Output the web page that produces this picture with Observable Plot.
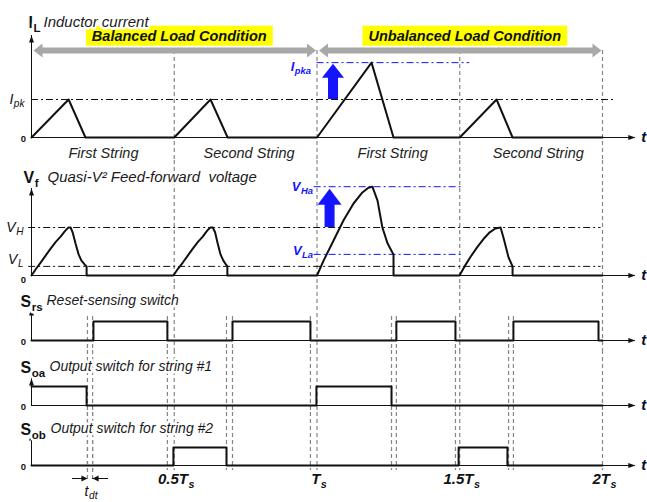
<!DOCTYPE html>
<html>
<head>
<meta charset="utf-8">
<script src="https://cdn.jsdelivr.net/npm/d3@7"></script>
<script src="https://cdn.jsdelivr.net/npm/@observablehq/plot@0.6"></script>
<style>
  html, body { margin: 0; padding: 0; background: #ffffff; }
  #chart { width: 647px; height: 502px; overflow: hidden; background: #ffffff; }
  #chart svg { display: block; }
</style>
</head>
<body>
<div id="chart"></div>
<script>
// ---------------- data (time in units of Ts) ----------------
const timeTicks = [0.5, 1, 1.5, 2];
const timeTickLabels = ["0.5T_{s}", "T_{s}", "1.5T_{s}", "2T_{s}"];

const conditionLabels = ["Balanced Load Condition", "Unbalanced Load Condition"];
const conditionStart = [0, 1];
const conditionEnd = [1, 2];

const stringLabels = ["First String", "Second String", "First String", "Second String"];
const stringLabelT = [0.252, 0.762, 1.265, 1.775];

// inductor current, normalised to Ipk
const ilT     = [0, 0.13, 0.189, 0.5, 0.627, 0.687, 1.0, 1.191, 1.268, 1.5, 1.629, 1.685, 2.0];
const ilValue = [0, 1,    0,     0,   1,     0,     0,   1.97,  0,     0,   1,     0,     0];
const ipk = 1, ipka = 1.97;

// quasi-V^2 feed-forward voltage, normalised to VH
const vfT = [
  0, 0.016, 0.032, 0.05, 0.067, 0.085, 0.102, 0.115, 0.124, 0.130, 0.137, 0.144, 0.154, 0.165, 0.175, 0.186, 0.193, 0.193,
  0.497, 0.513, 0.530, 0.548, 0.565, 0.583, 0.600, 0.612, 0.621, 0.627, 0.635, 0.643, 0.652, 0.662, 0.672, 0.681, 0.686, 0.686,
  1.000, 1.023, 1.058, 1.093, 1.128, 1.159, 1.180, 1.194, 1.212, 1.229, 1.247, 1.264, 1.268, 1.268,
  1.499, 1.518, 1.538, 1.560, 1.583, 1.605, 1.625, 1.643, 1.653, 1.671, 1.685, 1.685,
  2.0
];
const vfValue = [
  0, 0.14, 0.27, 0.42, 0.56, 0.70, 0.81, 0.91, 0.97, 1, 1, 0.9, 0.67, 0.44, 0.31, 0.23, 0.19, 0,
  0, 0.14, 0.27, 0.42, 0.56, 0.70, 0.81, 0.91, 0.97, 1, 1, 0.9, 0.67, 0.44, 0.31, 0.23, 0.19, 0,
  0, 0.31, 0.73, 1.15, 1.5, 1.73, 1.83, 1.85, 1.56, 1.0, 0.67, 0.48, 0.44, 0,
  0, 0.2, 0.39, 0.58, 0.76, 0.9, 0.98, 1.0, 0.79, 0.375, 0.19, 0,
  0
];
const vH = 1, vL = 0.19, vHa = 1.85, vLa = 0.44;

// switch on/off edges
const srsRise = [0.217, 0.704, 1.278, 1.688];
const srsFall = [0.476, 0.977, 1.485, 1.986];
const soaRise = [0, 0.998];
const soaFall = [0.193, 1.261];
const sobRise = [0.497, 1.496];
const sobFall = [0.683, 1.667];
const deadTimeEdges = [0.196, 0.214, 0.476, 0.683, 0.704, 0.977, 1.261, 1.278, 1.485, 1.671, 1.688];

// ---------------- styling / layout ----------------
const font = '"Liberation Sans", Arial, Helvetica, sans-serif';
const ink = "#111111";
const dashGray = "#858585";
const blue = "#1414ff";
const arrowGray = "#a8a8a8";
const dashDot = "7,3,2,3";
const axisEnd = 2.115;          // horizontal axes run a little past 2Ts
const headerLevel = 2.29;       // grey condition arrows (panel 1 units)
const labelLevel = 2.67;        // yellow condition labels
const ilArrowT = 1.056, vfArrowT = 1.044;

function headUp(w, h) { return {draw(c) { c.moveTo(0, 0); c.lineTo(w / 2, h); c.lineTo(-w / 2, h); c.closePath(); }}; }
function headRight(w, h) { return {draw(c) { c.moveTo(0, 0); c.lineTo(-h, -w / 2); c.lineTo(-h, w / 2); c.closePath(); }}; }
function headLeft(w, h) { return {draw(c) { c.moveTo(0, 0); c.lineTo(h, -w / 2); c.lineTo(h, w / 2); c.closePath(); }}; }

function axisMarks(topInset, zeroDy = 1) {
  return [
    Plot.ruleY([0], {y: 0, x1: 0, x2: axisEnd, stroke: ink, strokeWidth: 1}),
    Plot.dot([0], {x: axisEnd, y: 0, symbol: headRight(5, 7), fill: ink, stroke: "none"}),
    Plot.ruleX([0], {x: 0, insetTop: topInset, stroke: ink, strokeWidth: 1}),
    Plot.dot([0], {x: 0, frameAnchor: "top", dy: topInset, symbol: headUp(5, 7), fill: ink, stroke: "none"}),
    Plot.text(["t"], {x: axisEnd, y: 0, dx: 6, text: d => d, textAnchor: "start", fontWeight: "bold", fontStyle: "italic", fontSize: 15, fill: "#0b0b2a"}),
    Plot.text(["0"], {x: 0, y: 0, dx: -8, dy: zeroDy, text: d => d, fontWeight: "bold", fontSize: 9.5})
  ];
}

function titleMarks(symbol, desc, symDx, descDx, dy, descSize) {
  const halo = {stroke: "white", strokeWidth: 5, paintOrder: "stroke", strokeLinejoin: "round"};
  return [
    Plot.text([symbol], {frameAnchor: "top-left", dx: symDx, dy, text: d => d, textAnchor: "start", fontWeight: "bold", fontSize: 16, fill: ink, ...halo}),
    Plot.text([desc], {frameAnchor: "top-left", dx: descDx, dy, text: d => d, textAnchor: "start", fontStyle: "italic", fontSize: descSize, fill: "#1a1a1a", ...halo})
  ];
}

function dashedRules(values, insetTop, insetBottom) {
  return Plot.ruleX(values, {x: d => d, stroke: dashGray, strokeWidth: 1.2, strokeDasharray: "4,3", insetTop, insetBottom});
}

function stepPoints(rises, falls) {
  const pts = [];
  if (rises[0] !== 0) pts.push([0, 0]);
  rises.forEach((r, i) => { pts.push([r, 1]); pts.push([falls[i], 0]); });
  pts.push([2, 0]);
  return pts;
}

function panel({height, marginTop, marginBottom, yDomain, marks}) {
  return Plot.plot({
    width: 647, height, marginLeft: 31, marginRight: 45, marginTop, marginBottom,
    x: {domain: [0, 2], axis: null},
    y: {domain: yDomain, axis: null},
    style: {fontFamily: font, background: "transparent", overflow: "visible", color: ink},
    marks
  });
}

// ---------------- panel 1: inductor current ----------------
const idx = n => d3.range(n);
const p1 = panel({height: 160, marginTop: 61, marginBottom: 23, yDomain: [0, 2], marks: [
  dashedRules(timeTicks, -11, -23),
  Plot.ruleY([ipk], {y: d => d, x1: 0, x2: 2.045, stroke: ink, strokeWidth: 1, strokeDasharray: dashDot}),
  Plot.ruleY([ipka], {y: d => d, x1: 1.0, x2: 1.535, stroke: blue, strokeWidth: 1, strokeDasharray: dashDot}),
  ...axisMarks(-26),
  Plot.line(idx(ilT.length), {x: i => ilT[i], y: i => ilValue[i], stroke: ink, strokeWidth: 2}),
  Plot.ruleX([ilArrowT], {x: d => d, y1: ipka, y2: ipk, stroke: blue, strokeWidth: 10, insetTop: 12}),
  Plot.dot([ilArrowT], {x: d => d, y: ipka, dy: 1, symbol: headUp(22, 14), fill: blue, stroke: "none"}),
  Plot.ruleY(idx(2), {y: headerLevel, x1: i => conditionStart[i], x2: i => conditionEnd[i], stroke: arrowGray, strokeWidth: 6, insetLeft: 8, insetRight: 8}),
  Plot.dot(idx(2), {x: i => conditionStart[i], y: headerLevel, dx: 2, symbol: headLeft(14, 9), fill: arrowGray, stroke: "none"}),
  Plot.dot(idx(2), {x: i => conditionEnd[i], y: headerLevel, dx: -1, symbol: headRight(14, 9), fill: arrowGray, stroke: "none"}),
  Plot.text(idx(2), {x: i => (conditionStart[i] + conditionEnd[i]) / 2, y: labelLevel, dx: 5, text: i => conditionLabels[i], fontWeight: "bold", fontStyle: "italic", fontSize: 14.5, fill: ink}),
  Plot.text(idx(4), {x: i => stringLabelT[i], y: 0, dy: 16, text: i => stringLabels[i], fontStyle: "italic", fontSize: 14.5, fill: "#222"}),
  Plot.text(["I_{pk}"], {x: 0, y: ipk, dx: -7, text: d => d, textAnchor: "end", fontStyle: "italic", fontSize: 14, fill: ink}),
  Plot.text(["I_{pka}"], {x: 1, y: ipka, dx: -6, dy: 4, text: d => d, textAnchor: "end", fontStyle: "italic", fontWeight: "bold", fontSize: 13, fill: blue}),
  ...titleMarks("I_{L}", "Inductor current", -3, 12, -45, 15)
]});

// ---------------- panel 2: feed-forward voltage ----------------
const p2 = panel({height: 125, marginTop: 19, marginBottom: 10, yDomain: [0, 2], marks: [
  dashedRules(timeTicks, -19, -10),
  Plot.ruleY([vH, vL], {y: d => d, x1: -0.01, x2: 1.995, stroke: ink, strokeWidth: 1, strokeDasharray: dashDot}),
  Plot.ruleY([vHa, vLa], {y: d => d, x1: 0.99, x2: 1.508, stroke: blue, strokeWidth: 1, strokeDasharray: dashDot}),
  ...axisMarks(9, 4),
  Plot.line(idx(vfT.length), {x: i => vfT[i], y: i => vfValue[i], stroke: ink, strokeWidth: 2}),
  Plot.ruleX([vfArrowT], {x: d => d, y1: vHa, y2: vH, stroke: blue, strokeWidth: 10, insetTop: 14}),
  Plot.dot([vfArrowT], {x: d => d, y: vHa, dy: 2, symbol: headUp(24, 16), fill: blue, stroke: "none"}),
  Plot.text(["V_{H}"], {x: 0, y: vH, dx: -8, text: d => d, textAnchor: "end", fontStyle: "italic", fontSize: 14, fill: ink}),
  Plot.text(["V_{L}"], {x: 0, y: vL, dx: -8, dy: -7, text: d => d, textAnchor: "end", fontStyle: "italic", fontSize: 14, fill: ink}),
  Plot.text(["V_{Ha}"], {x: 1, y: vHa, dx: -4, text: d => d, textAnchor: "end", fontStyle: "italic", fontWeight: "bold", fontSize: 13, fill: blue}),
  Plot.text(["V_{La}"], {x: 1, y: vLa, dx: -4, dy: -4, text: d => d, textAnchor: "end", fontStyle: "italic", fontWeight: "bold", fontSize: 13, fill: blue}),
  ...titleMarks("V_{f}", "Quasi-V\u00b2 Feed-forward\u00a0 voltage", -8, 16, -8, 15)
]});

// ---------------- switch panels ----------------
function switchPanel({height, marginTop, marginBottom, rises, falls, symbol, desc, descDx, titleDy, shortTop, shortBottom, longBottom, axisTop, extra = []}) {
  const pts = stepPoints(rises, falls);
  return panel({height, marginTop, marginBottom, yDomain: [0, 1], marks: [
    dashedRules(timeTicks, -marginTop, longBottom),
    dashedRules(deadTimeEdges, shortTop, shortBottom),
    ...axisMarks(axisTop),
    Plot.line(pts, {x: d => d[0], y: d => d[1], curve: "step-after", stroke: ink, strokeWidth: 2}),
    ...extra,
    ...titleMarks(symbol, desc, -11, descDx, titleDy, 14)
  ]});
}

const p3 = switchPanel({height: 65, marginTop: 36, marginBottom: 10, rises: srsRise, falls: srsFall,
  symbol: "S_{rs}", desc: "Reset-sensing switch", descDx: 15, titleDy: -26,
  shortTop: -5, shortBottom: -10, longBottom: -10, axisTop: -13});

const p4 = switchPanel({height: 62, marginTop: 36, marginBottom: 7, rises: soaRise, falls: soaFall,
  symbol: "S_{oa}", desc: "Output switch for string #1", descDx: 18, titleDy: -25,
  shortTop: -36, shortBottom: -7, longBottom: -7, axisTop: -8});

const p5 = switchPanel({height: 90, marginTop: 35, marginBottom: 37, rises: sobRise, falls: sobFall,
  symbol: "S_{ob}", desc: "Output switch for string #2", descDx: 19, titleDy: -24,
  shortTop: -35, shortBottom: -5, longBottom: -5, axisTop: -14,
  extra: [
    dashedRules(deadTimeEdges.slice(0, 2), -35, -17),
    Plot.ruleY([0], {y: 0, dy: 13, x1: deadTimeEdges[0], x2: deadTimeEdges[0], insetLeft: -15, stroke: ink, strokeWidth: 1}),
    Plot.dot([0], {x: deadTimeEdges[0], y: 0, dy: 13, symbol: headRight(6, 6), fill: ink, stroke: "none"}),
    Plot.ruleY([0], {y: 0, dy: 13, x1: deadTimeEdges[1], x2: deadTimeEdges[1], insetRight: -16, stroke: ink, strokeWidth: 1}),
    Plot.dot([0], {x: deadTimeEdges[1], y: 0, dy: 13, symbol: headLeft(6, 6), fill: ink, stroke: "none"}),
    Plot.text(["t_{dt}"], {x: (deadTimeEdges[0] + deadTimeEdges[1]) / 2, y: 0, dy: 26, dx: 1, text: d => d, fontStyle: "italic", fontSize: 14, fill: ink}),
    Plot.text(idx(timeTicks.length), {x: i => timeTicks[i], y: 0, dy: 14, dx: 2, text: i => timeTickLabels[i], fontWeight: "bold", fontStyle: "italic", fontSize: 15, fill: ink, stroke: "white", strokeWidth: 3, paintOrder: "stroke"})
  ]});

const chart = document.getElementById("chart");
[p1, p2, p3, p4, p5].forEach(svg => chart.appendChild(svg));

// ---------------- rich text: _{...} becomes a subscript ----------------
const SVGNS = "http://www.w3.org/2000/svg";
function richText(svg) {
  svg.querySelectorAll("text").forEach(node => {
    const tsp = node.querySelectorAll("tspan");
    const targets = tsp.length ? [...tsp] : [node];
    for (const el of targets) {
      const s = el.textContent;
      if (!s.includes("_{")) continue;
      const fs = parseFloat(getComputedStyle(el).fontSize) || 12;
      const shift = fs * 0.24;
      el.textContent = "";
      const re = /_\{([^}]*)\}/g;
      let last = 0, m, lowered = false;
      const add = (txt, attrs) => {
        const t = document.createElementNS(SVGNS, "tspan");
        t.textContent = txt;
        for (const k in attrs) t.setAttribute(k, attrs[k]);
        el.appendChild(t);
      };
      while ((m = re.exec(s))) {
        if (m.index > last) { add(s.slice(last, m.index), lowered ? {dy: -shift} : {}); lowered = false; }
        add(m[1], {dy: shift, "font-size": (fs * 0.72).toFixed(1), "dx": 0.5});
        lowered = true;
        last = re.lastIndex;
      }
      if (last < s.length) add(s.slice(last), lowered ? {dy: -shift} : {});
    }
  });
}
[p1, p2, p3, p4, p5].forEach(richText);

// ---------------- yellow boxes behind condition labels ----------------
p1.querySelectorAll("text").forEach(t => {
  if (!conditionLabels.includes(t.textContent)) return;
  const bb = t.getBBox();
  const r = document.createElementNS(SVGNS, "rect");
  r.setAttribute("x", bb.x - 6);
  r.setAttribute("y", bb.y - 2);
  r.setAttribute("width", bb.width + 12);
  r.setAttribute("height", bb.height + 4);
  r.setAttribute("fill", "#ffff00");
  const tr = t.getAttribute("transform");
  if (tr) r.setAttribute("transform", tr);
  t.parentNode.insertBefore(r, t);
});
</script>
</body>
</html>
